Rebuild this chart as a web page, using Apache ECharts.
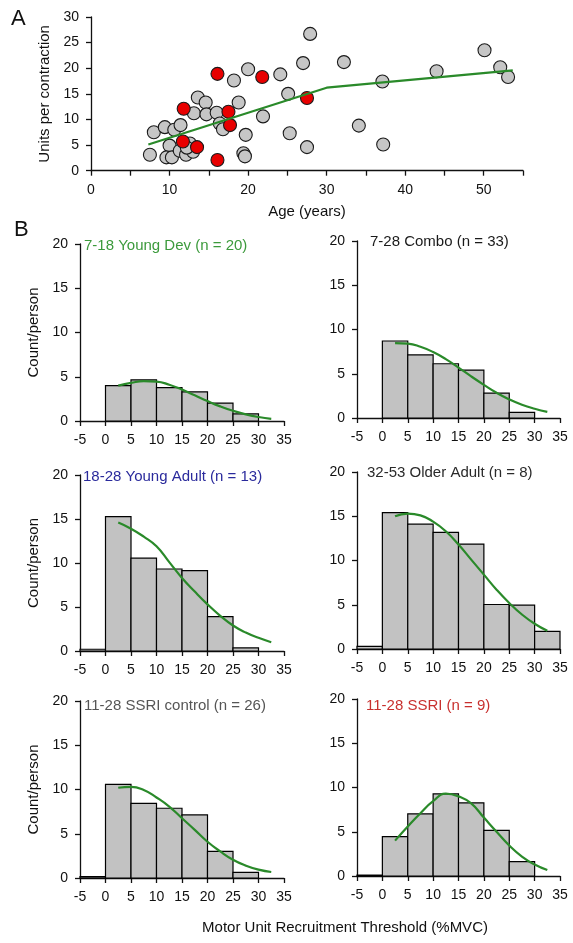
<!DOCTYPE html>
<html>
<head>
<meta charset="utf-8">
<script src="https://cdn.jsdelivr.net/npm/echarts@6/dist/echarts.min.js"></script>
<style>
  html, body { margin: 0; padding: 0; background: #fff; }
  #chart { width: 573px; height: 943px; }
</style>
</head>
<body>
<div id="chart"></div>
<script>
// ---- Panel A: units per contraction vs age ----
const controlAges = [7.5, 8.0, 9.4, 10.0, 9.6, 10.3, 10.6, 11.4, 11.3, 12.1, 13.0, 12.6, 12.2,
  13.1, 13.6, 14.6, 14.7, 16.0, 16.4, 16.8, 18.2, 18.8, 19.7, 19.4, 19.6, 20.0, 21.9,
  24.1, 25.1, 25.3, 27.0, 27.5, 27.9, 32.2, 34.1, 37.1, 37.2, 44.0, 50.1, 52.1, 53.1];
const controlUnits = [3.1, 7.5, 8.5, 4.9, 2.6, 2.6, 8.0, 8.9, 3.9, 3.1, 3.7, 5.3, 4.5,
  11.2, 14.3, 13.3, 11.0, 11.3, 9.2, 8.1, 17.6, 13.3, 7.0, 3.4, 2.8, 19.8, 10.6,
  18.8, 15.0, 7.3, 21.0, 4.6, 26.7, 21.2, 8.8, 17.4, 5.1, 19.4, 23.5, 20.2, 18.3];
const ssriAges = [16.1, 21.8, 11.8, 17.5, 17.7, 11.7, 13.5, 16.1, 27.5];
const ssriUnits = [18.9, 18.3, 12.1, 11.5, 8.9, 5.7, 4.6, 2.1, 14.2];
const trendAges = [7.3, 30.0, 53.7];
const trendUnits = [5.1, 16.2, 19.6];

// ---- Panel B: recruitment threshold histograms ----
const binStarts = [-5, 0, 5, 10, 15, 20, 25, 30];
const binWidth = 5;
const fitX = [2.5, 5, 7.5, 10, 12.5, 15, 17.5, 20, 22.5, 25, 27.5, 30, 32.5];

const youngDevCounts   = [0, 4.0, 4.65, 3.78, 3.3, 2.03, 0.8, 0];
const comboCounts      = [0, 8.7, 7.13, 6.13, 5.42, 2.82, 0.64, 0];
const youngAdultCounts = [0.2, 15.27, 10.55, 9.32, 9.13, 3.9, 0.35, 0];
const olderAdultCounts = [0.3, 15.4, 14.1, 13.17, 11.86, 5.03, 4.95, 2.0];
const controlCounts    = [0.15, 10.58, 8.44, 7.88, 7.13, 3.0, 0.64, 0];
const ssriCounts       = [0.1, 4.45, 7.03, 9.29, 8.27, 5.15, 1.62, 0];

const youngDevFit   = [4.0, 4.3, 4.5, 4.45, 4.1, 3.55, 2.9, 2.25, 1.65, 1.15, 0.75, 0.45, 0.25];
const comboFit      = [8.45, 8.4, 8.05, 7.45, 6.65, 5.7, 4.7, 3.75, 2.85, 2.1, 1.5, 1.05, 0.7];
const youngAdultFit = [14.6, 13.9, 13.0, 11.9, 10.1, 8.3, 6.75, 5.3, 4.0, 2.9, 2.1, 1.5, 1.0];
const olderAdultFit = [15.0, 15.3, 15.1, 14.4, 13.3, 11.8, 10.1, 8.4, 6.7, 5.2, 3.9, 2.85, 2.05];
const controlFit    = [10.2, 10.3, 9.95, 9.1, 8.07, 6.75, 5.44, 4.1, 3.0, 2.06, 1.4, 0.94, 0.68];
const ssriFit       = [4.0, 5.6, 7.1, 8.45, 9.3, 9.0, 8.2, 6.6, 5.0, 3.45, 2.2, 1.3, 0.68];

const panelTitles = [
  '7-18 Young Dev (n = 20)', '7-28 Combo (n = 33)',
  '18-28 Young Adult (n = 13)', '32-53 Older Adult (n = 8)',
  '11-28 SSRI control (n = 26)', '11-28 SSRI (n = 9)'
];
const yTicksA = [0, 5, 10, 15, 20, 25, 30];
const xTicksB = [-5, 0, 5, 10, 15, 20, 25, 30, 35];

const FONT = '"Liberation Sans", Arial, Helvetica, sans-serif';
const INK = '#111';
const GREEN = '#2a8a2a';

const panels = [
  { counts: youngDevCounts,   fit: youngDevFit,   title: panelTitles[0], color: '#3c9a3c', grid: { left: 80,  top: 244, width: 204, height: 177 }, tx: 84,  ty: 246 },
  { counts: comboCounts,      fit: comboFit,      title: panelTitles[1], color: '#1a1a1a', grid: { left: 357, top: 241, width: 203, height: 177 }, tx: 370, ty: 242 },
  { counts: youngAdultCounts, fit: youngAdultFit, title: panelTitles[2], color: '#2a2a9c', grid: { left: 80,  top: 475, width: 204, height: 176 }, tx: 83,  ty: 477 },
  { counts: olderAdultCounts, fit: olderAdultFit, title: panelTitles[3], color: '#2a2a2a', grid: { left: 357, top: 472, width: 203, height: 177 }, tx: 367, ty: 473 },
  { counts: controlCounts,    fit: controlFit,    title: panelTitles[4], color: '#555555', grid: { left: 80,  top: 701, width: 204, height: 177 }, tx: 84,  ty: 706 },
  { counts: ssriCounts,       fit: ssriFit,       title: panelTitles[5], color: '#c8302e', grid: { left: 357, top: 699, width: 203, height: 177 }, tx: 366, ty: 706 }
];

const axisLine = { show: true, onZero: false, lineStyle: { color: INK, width: 1.3 } };
const axisTick = { show: true, inside: false, length: 5, lineStyle: { color: INK, width: 1.3 } };
const labelStyle = { color: INK, fontFamily: FONT, fontSize: 14 };

const grids = [{ left: 91, top: 17, width: 432, height: 153.7 }];
const xAxes = [{
  gridIndex: 0, type: 'value', min: 0, max: 55, interval: 5,
  axisLine, axisTick, splitLine: { show: false },
  axisLabel: Object.assign({}, labelStyle, { margin: 12, formatter: v => (v % 10 === 0 ? String(v) : '') }),
  name: 'Age (years)', nameLocation: 'middle', nameGap: 34,
  nameTextStyle: { color: INK, fontFamily: FONT, fontSize: 15 }
}];
const yAxes = [{
  gridIndex: 0, type: 'value', min: yTicksA[0], max: yTicksA[yTicksA.length - 1], interval: 5,
  axisLine, axisTick, splitLine: { show: false },
  axisLabel: Object.assign({}, labelStyle, { margin: 12 }),
  name: 'Units per contraction', nameLocation: 'middle', nameGap: 36,
  nameTextStyle: { color: INK, fontFamily: FONT, fontSize: 15 }
}];

const series = [
  {
    type: 'scatter', xAxisIndex: 0, yAxisIndex: 0, symbolSize: 13, z: 3,
    data: controlAges.map((a, i) => [a, controlUnits[i]]),
    itemStyle: { color: '#c6c6c6', borderColor: '#1a1a1a', borderWidth: 1.1, opacity: 1 }
  },
  {
    type: 'scatter', xAxisIndex: 0, yAxisIndex: 0, symbolSize: 13, z: 4,
    data: ssriAges.map((a, i) => [a, ssriUnits[i]]),
    itemStyle: { color: '#e80000', borderColor: '#1a1a1a', borderWidth: 1.1, opacity: 1 }
  },
  {
    type: 'line', xAxisIndex: 0, yAxisIndex: 0, z: 5, symbol: 'none',
    data: trendAges.map((a, i) => [a, trendUnits[i]]),
    lineStyle: { color: GREEN, width: 2.2 }
  }
];

function renderBin(params, api) {
  const x0 = api.value(0);
  const h = api.value(1);
  const top = api.coord([x0, h]);
  const base = api.coord([x0 + binWidth, 0]);
  return {
    type: 'rect',
    shape: { x: top[0], y: top[1], width: base[0] - top[0], height: base[1] - top[1] },
    style: { fill: '#c2c2c2', stroke: '#000', lineWidth: 1.2 }
  };
}

const graphics = [
  { type: 'text', style: { text: 'A', x: 11, y: 19, fill: INK, font: '22px ' + FONT, verticalAlign: 'middle' } },
  { type: 'text', style: { text: 'B', x: 14, y: 230, fill: INK, font: '22px ' + FONT, verticalAlign: 'middle' } },
  { type: 'text', style: { text: 'Motor Unit Recruitment Threshold (%MVC)', x: 345, y: 928, fill: INK,
    font: '15px ' + FONT, align: 'center', verticalAlign: 'middle' } }
];

panels.forEach((p, k) => {
  const gi = k + 1;
  const leftCol = k % 2 === 0;
  grids.push(p.grid);
  xAxes.push({
    gridIndex: gi, type: 'value', min: xTicksB[0], max: xTicksB[xTicksB.length - 1], interval: 5,
    axisLine, axisTick, splitLine: { show: false },
    axisLabel: Object.assign({}, labelStyle, { margin: 12 })
  });
  yAxes.push({
    gridIndex: gi, type: 'value', min: 0, max: 20, interval: 5,
    axisLine, axisTick, splitLine: { show: false },
    axisLabel: Object.assign({}, labelStyle, { margin: 12 }),
    name: leftCol ? 'Count/person' : '', nameLocation: 'middle', nameGap: 39,
    nameTextStyle: { color: INK, fontFamily: FONT, fontSize: 15 }
  });
  series.push({
    type: 'custom', xAxisIndex: gi, yAxisIndex: gi, renderItem: renderBin, z: 2,
    encode: { x: 0, y: 1 },
    data: binStarts.map((b, i) => [b, p.counts[i]]).filter(d => d[1] > 0)
  });
  series.push({
    type: 'line', xAxisIndex: gi, yAxisIndex: gi, z: 5, symbol: 'none', smooth: 0.5,
    data: fitX.map((x, i) => [x, p.fit[i]]),
    lineStyle: { color: GREEN, width: 2.2 }
  });
  graphics.push({ type: 'text', style: { text: p.title, x: p.tx, y: p.ty, fill: p.color,
    font: '15px ' + FONT, verticalAlign: 'middle' } });
});

const chart = echarts.init(document.getElementById('chart'), null, { renderer: 'canvas' });
chart.setOption({
  animation: false,
  backgroundColor: '#fff',
  grid: grids,
  xAxis: xAxes,
  yAxis: yAxes,
  series: series,
  graphic: graphics
});
</script>
</body>
</html>
